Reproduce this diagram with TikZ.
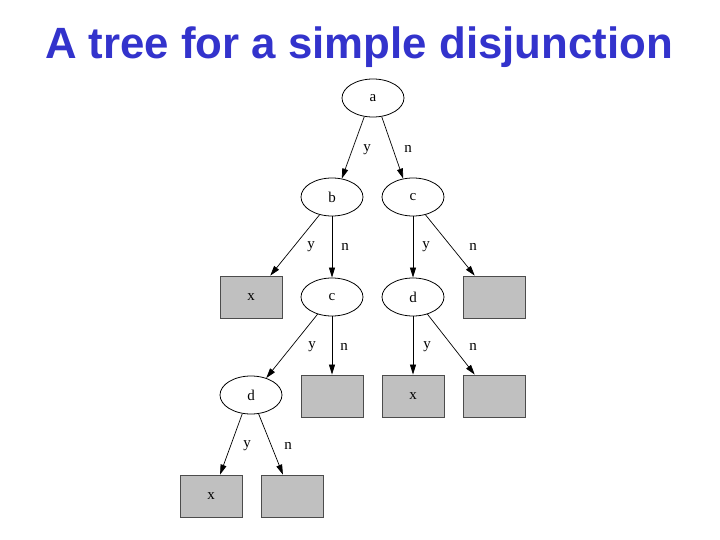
\documentclass[tikz,border=0pt]{standalone}
\usepackage{fontspec}
\setmainfont{Liberation Serif}
\newfontfamily\titlefont{Liberation Sans}
\usetikzlibrary{shapes.geometric,arrows.meta}
\definecolor{titleblue}{RGB}{51,51,204}
\definecolor{boxgray}{RGB}{192,192,192}
\begin{document}
\begin{tikzpicture}[x=1pt,y=-1pt,
  dec/.style={ellipse,draw=black,line width=0.8pt,minimum width=62pt,minimum height=38pt,inner sep=0pt,font=\fontsize{15}{17}\selectfont},
  leaf/.style={rectangle,draw=black!70,fill=boxgray,line width=0.8pt,minimum width=62pt,minimum height=42pt,inner sep=0pt,font=\fontsize{15}{17}\selectfont},
  edge/.style={draw=black,line width=0.7pt,-{Triangle[length=10pt,width=6pt]}},
  lab/.style={font=\fontsize{15}{17}\selectfont,inner sep=0pt}]
\useasboundingbox (0,0) rectangle (720,540);
\node[font=\titlefont\bfseries\fontsize{43.8}{48}\selectfont,text=titleblue] (title) at (359,47) {A tree for a simple disjunction};
% nodes
\node[dec] (a) at (373,98) {a};
\node[dec] (b) at (332,197) {b};
\node[dec] (c1) at (413,197) {c};
\node[leaf] (x1) at (251,297) {x};
\node[dec] (c2) at (332,297) {c};
\node[dec] (d1) at (413,297) {d};
\node[leaf] (e1) at (494,297) {};
\node[dec] (d2) at (251,395) {d};
\node[leaf] (e2) at (332,396) {};
\node[leaf] (x2) at (413,396) {x};
\node[leaf] (e3) at (494,396) {};
\node[leaf] (x3) at (211,496) {x};
\node[leaf] (e4) at (292,496) {};
% edges
\draw[edge] (a.245) -- (b.62);
\draw[edge] (a.295) -- (c1.118);
\draw[edge] (b.235) -- (x1.48);
\draw[edge] (b.south) -- (c2.north);
\draw[edge] (c1.south) -- (d1.north);
\draw[edge] (c1.305) -- (e1.132);
\draw[edge] (c2.230) -- (d2.48);
\draw[edge] (c2.south) -- (e2.north);
\draw[edge] (d1.south) -- (x2.north);
\draw[edge] (d1.310) -- (e3.132);
\draw[edge] (d2.245) -- (x3.67);
\draw[edge] (d2.292) -- (e4.113);
% labels
\node[lab] (l1) at (367,150) {y};
\node[lab] (l2) at (408,149) {n};
\node[lab] (l3) at (311,247) {y};
\node[lab] (l4) at (345,247) {n};
\node[lab] (l5) at (426,247) {y};
\node[lab] (l6) at (473,247) {n};
\node[lab] (l7) at (312,347) {y};
\node[lab] (l8) at (344,347) {n};
\node[lab] (l9) at (427,347) {y};
\node[lab] (l10) at (473,347) {n};
\node[lab] (l11) at (247,446) {y};
\node[lab] (l12) at (288,446) {n};
\end{tikzpicture}
\end{document}
